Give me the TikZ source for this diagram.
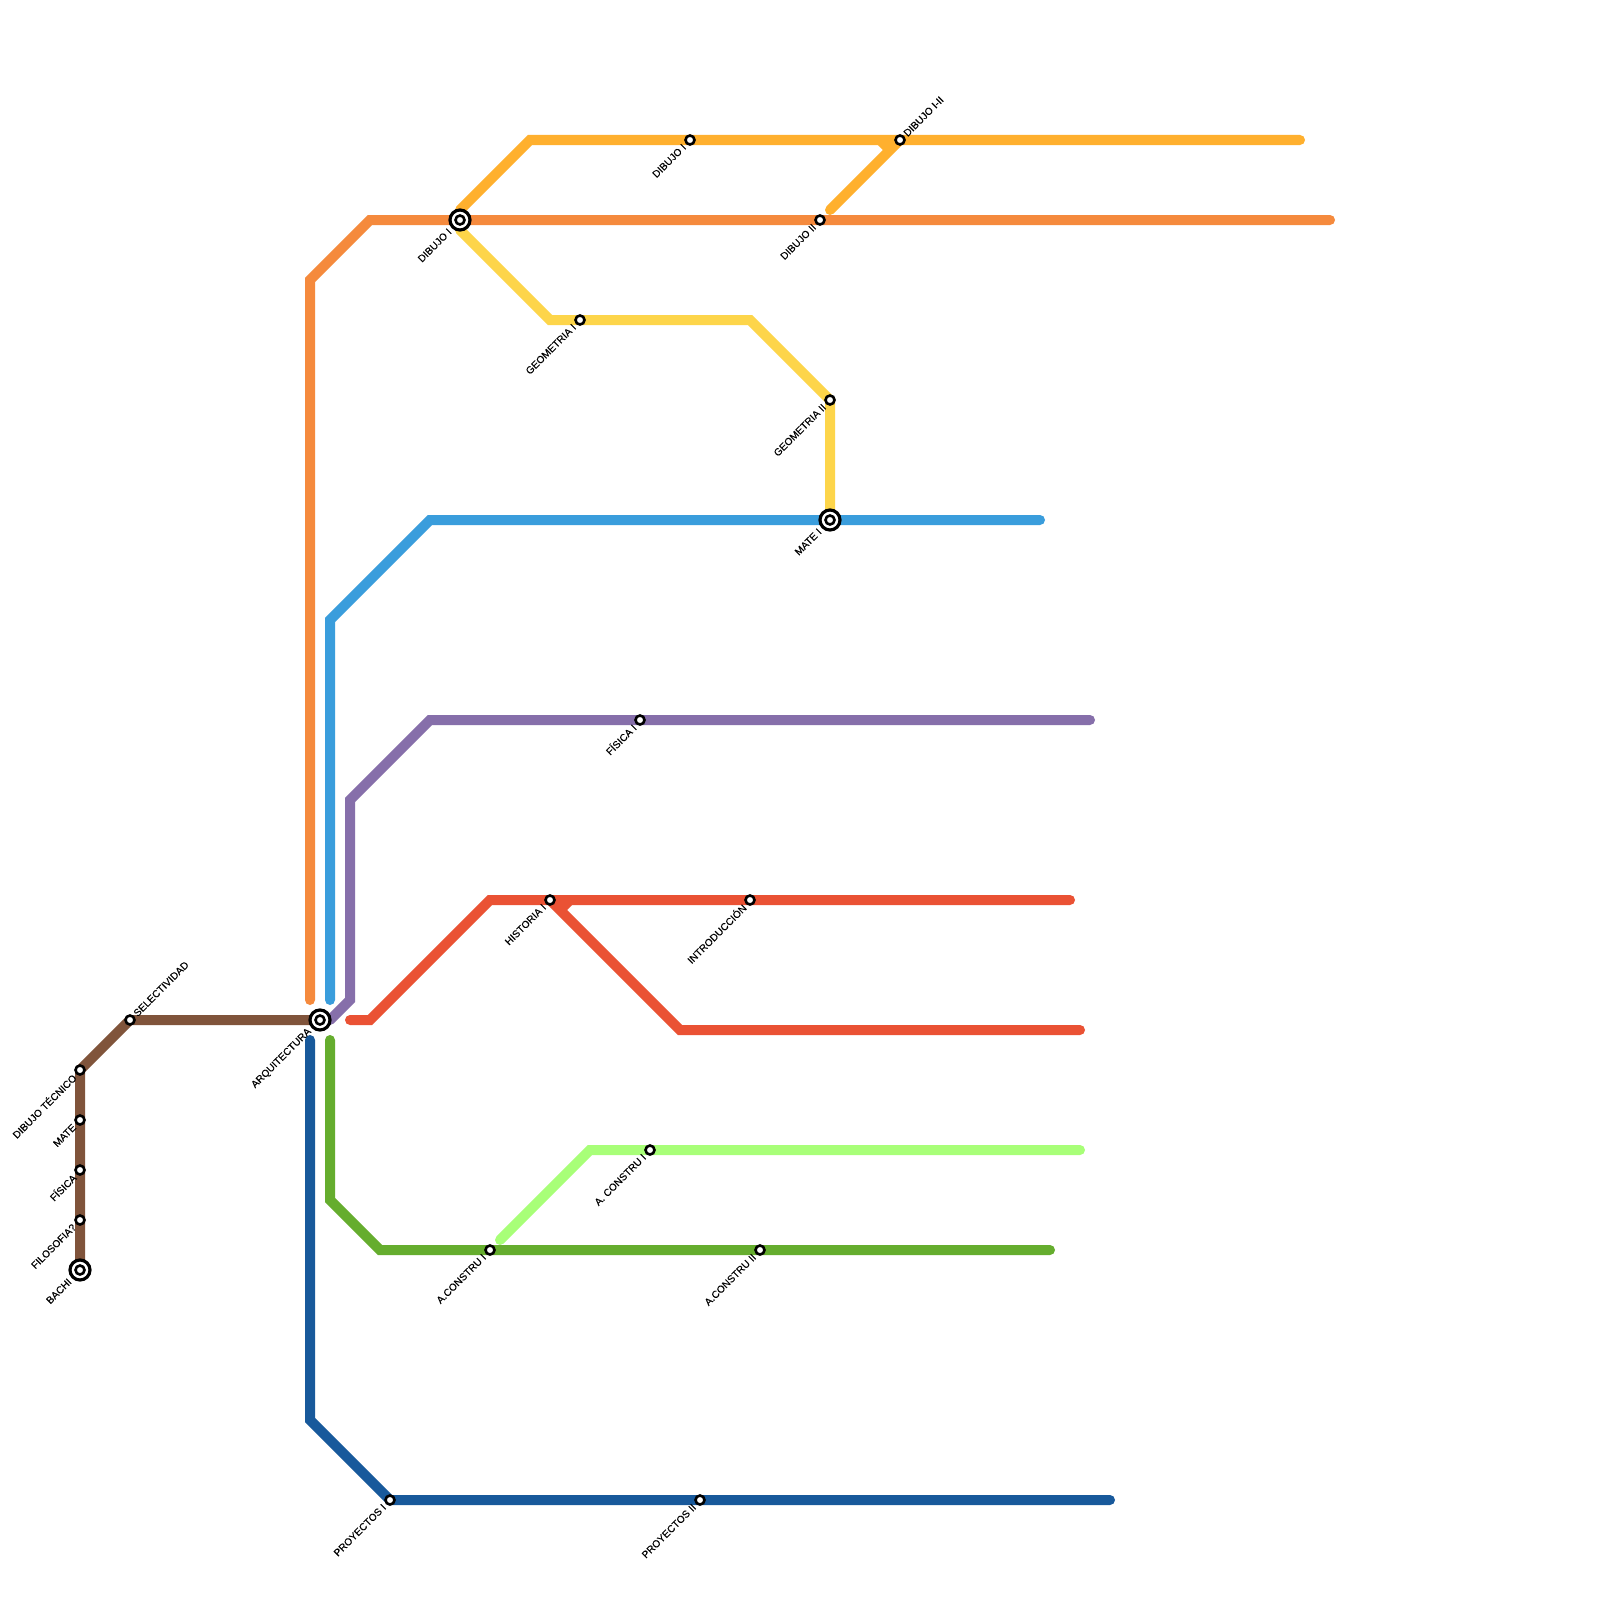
\documentclass[tikz,border=0pt]{standalone}
\usepackage{fontspec}
\setmainfont{Liberation Sans}
\newfontfamily\labfont[FakeBold=0.25]{Liberation Sans}
\definecolor{cbrown}{HTML}{80543B}
\definecolor{corange}{HTML}{F58A3D}
\definecolor{cblue}{HTML}{3A9DDC}
\definecolor{cpurple}{HTML}{866FAA}
\definecolor{cred}{HTML}{EA5234}
\definecolor{cnavy}{HTML}{18599B}
\definecolor{cgreen}{HTML}{65AD2E}
\definecolor{clime}{HTML}{A8FF78}
\definecolor{cyellow}{HTML}{FDD54A}
\definecolor{camber}{HTML}{FFB02E}
\tikzset{
  x=0.5pt,y=-0.5pt,
  metro/.style={line width=5pt,line cap=round,line join=miter},
  spur/.style={line width=5pt,line cap=butt},
  halt/.style={circle,draw=black,fill=white,line width=1.3pt,minimum size=4.5pt,inner sep=0pt,outer sep=0pt},
  hub/.style={circle,draw=black,fill=white,line width=1.6pt,minimum size=10pt,inner sep=0pt,outer sep=0pt},
  lab/.style={inner sep=0pt,rotate=45,font=\labfont\fontsize{5.05pt}{6pt}\selectfont,text=black},
  labl/.style={lab,anchor=east},
  labr/.style={lab,anchor=west}
}
\begin{document}
\begin{tikzpicture}
\useasboundingbox[fill=white] (0,0) rectangle (1600,1600);
% stations / waypoints
\coordinate (bachi) at (80,1270);
\coordinate (filo) at (80,1220);
\coordinate (fis) at (80,1170);
\coordinate (mat) at (80,1120);
\coordinate (dtec) at (80,1070);
\coordinate (sel) at (130,1020);
\coordinate (arq) at (320,1020);
\coordinate (dib1) at (460,220);
\coordinate (dib1b) at (690,140);
\coordinate (dib12) at (900,140);
\coordinate (dib2) at (820,220);
\coordinate (geo1) at (580,320);
\coordinate (geo2) at (830,400);
\coordinate (mate1) at (830,520);
\coordinate (fis1) at (640,720);
\coordinate (his1) at (550,900);
\coordinate (intro) at (750,900);
\coordinate (ac0) at (650,1150);
\coordinate (ac1) at (490,1250);
\coordinate (ac2) at (760,1250);
\coordinate (pr1) at (390,1500);
\coordinate (pr2) at (700,1500);
% waypoints
\coordinate (o0) at (310,1000); \coordinate (o1) at (310,280); \coordinate (o2) at (370,220); \coordinate (o3) at (1330,220);
\coordinate (a0) at (460,210); \coordinate (a1) at (530,140); \coordinate (a2) at (1300,140); \coordinate (a3) at (830,210);
\coordinate (as0) at (880,140); \coordinate (as1) at (890,150);
\coordinate (y0) at (460,230); \coordinate (y1) at (550,320); \coordinate (y2) at (750,320); \coordinate (y3) at (830,510);
\coordinate (b0) at (330,1000); \coordinate (b1) at (330,620); \coordinate (b2) at (430,520); \coordinate (b3) at (1040,520);
\coordinate (p0) at (330,1020); \coordinate (p1) at (350,1000); \coordinate (p2) at (350,800); \coordinate (p3) at (430,720); \coordinate (p4) at (1090,720);
\coordinate (r0) at (350,1020); \coordinate (r1) at (370,1020); \coordinate (r2) at (490,900); \coordinate (r3) at (1070,900);
\coordinate (r4) at (680,1030); \coordinate (r5) at (1080,1030); \coordinate (rs0) at (570,900); \coordinate (rs1) at (560,910);
\coordinate (l0) at (500,1240); \coordinate (l1) at (590,1150); \coordinate (l2) at (1080,1150);
\coordinate (g0) at (330,1040); \coordinate (g1) at (330,1200); \coordinate (g2) at (380,1250); \coordinate (g3) at (1050,1250);
\coordinate (n0) at (310,1040); \coordinate (n1) at (310,1420); \coordinate (n2) at (1110,1500);
% lines
\draw[metro,cbrown] (bachi) -- (dtec) -- (sel) -- (arq);
\draw[metro,corange] (o0) -- (o1) -- (o2) -- (o3);
\draw[metro,camber] (a0) -- (a1) -- (a2);
\draw[metro,camber] (a3) -- (dib12);
\draw[spur,camber] (as0) -- (as1);
\draw[metro,cyellow] (y0) -- (y1) -- (y2) -- (geo2) -- (y3);
\draw[metro,cblue] (b0) -- (b1) -- (b2) -- (b3);
\draw[metro,cpurple] (p0) -- (p1) -- (p2) -- (p3) -- (p4);
\draw[metro,cred] (r0) -- (r1) -- (r2) -- (r3);
\draw[metro,cred] (his1) -- (r4) -- (r5);
\draw[spur,cred] (rs0) -- (rs1);
\draw[metro,clime] (l0) -- (l1) -- (l2);
\draw[metro,cgreen] (g0) -- (g1) -- (g2) -- (g3);
\draw[metro,cnavy] (n0) -- (n1) -- (pr1) -- (n2);
% stations
\foreach \s in {bachi,arq,dib1,mate1}{
  \node[hub] (h\s) at (\s) {};
  \node[halt] (i\s) at (\s) {};
}
\foreach \s in {filo,fis,mat,dtec,sel,dib1b,dib12,dib2,geo1,geo2,fis1,his1,intro,ac0,ac1,ac2,pr1,pr2}{
  \node[halt] (s\s) at (\s) {};
}
% labels
\node[labr] (tsel) at ([shift={(5,-5)}]sel) {SELECTIVIDAD};
\node[labr] (tdib12) at ([shift={(5,-5)}]dib12) {DIBUJO I-II};
\node[labl] (tdtec) at ([shift={(-5.5,5.5)}]dtec) {DIBUJO TÉCNICO};
\node[labl] (tmat) at ([shift={(-5.5,5.5)}]mat) {MATE};
\node[labl] (tfis) at ([shift={(-5.5,5.5)}]fis) {FÍSICA};
\node[labl] (tfilo) at ([shift={(-5.5,5.5)}]filo) {FILOSOFIA?};
\node[labl] (tbachi) at ([shift={(-10,10)}]bachi) {BACHI};
\node[labl] (tarq) at ([shift={(-10,10)}]arq) {ARQUITECTURA};
\node[labl] (tdib1) at ([shift={(-10,10)}]dib1) {DIBUJO I};
\node[labl] (tdib1b) at ([shift={(-5.5,5.5)}]dib1b) {DIBUJO I};
\node[labl] (tdib2) at ([shift={(-5.5,5.5)}]dib2) {DIBUJO II};
\node[labl] (tgeo1) at ([shift={(-5.5,5.5)}]geo1) {GEOMETRIA I};
\node[labl] (tgeo2) at ([shift={(-5.5,5.5)}]geo2) {GEOMETRIA II};
\node[labl] (tmate1) at ([shift={(-10,10)}]mate1) {MATE I};
\node[labl] (tfis1) at ([shift={(-5.5,5.5)}]fis1) {FÍSICA I};
\node[labl] (this1) at ([shift={(-5.5,5.5)}]his1) {HISTORIA I};
\node[labl] (tintro) at ([shift={(-5.5,5.5)}]intro) {INTRODUCCIÓN};
\node[labl] (tac0) at ([shift={(-5.5,5.5)}]ac0) {A. CONSTRU I};
\node[labl] (tac1) at ([shift={(-5.5,5.5)}]ac1) {A.CONSTRU I};
\node[labl] (tac2) at ([shift={(-5.5,5.5)}]ac2) {A.CONSTRU II};
\node[labl] (tpr1) at ([shift={(-5.5,5.5)}]pr1) {PROYECTOS I};
\node[labl] (tpr2) at ([shift={(-5.5,5.5)}]pr2) {PROYECTOS II};
\end{tikzpicture}
\end{document}
